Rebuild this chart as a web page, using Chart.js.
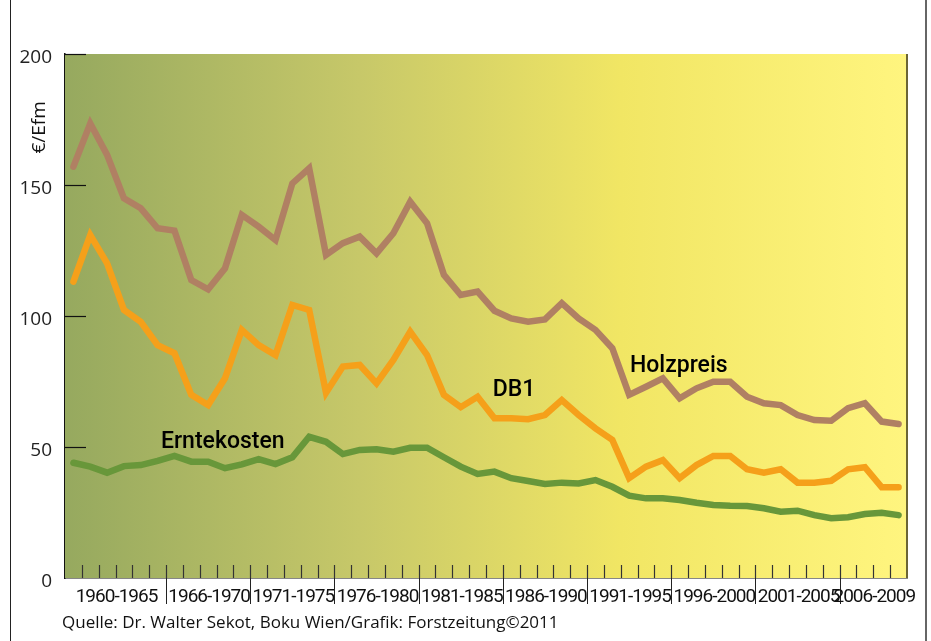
<!DOCTYPE html>
<html>
<head>
<meta charset="utf-8">
<script src="https://cdn.jsdelivr.net/npm/chart.js@4.4.1/dist/chart.umd.min.js"></script>
<style>
  html, body { margin: 0; padding: 0; background: #fff; }
  #wrap { position: relative; width: 931px; height: 641px; overflow: hidden; }
  #frame { position: absolute; left: 10px; top: 0; width: 914px; height: 700px;
           border-left: 1.5px solid #222; border-right: 2px solid #666; }
  #chart { position: absolute; left: 0; top: 0; }
  #source { position: absolute; left: 62px; top: 610px; font: 17px "Open Sans", sans-serif; color: #111; }
</style>
</head>
<body>
<div id="wrap">
  <div id="frame"></div>
  <canvas id="chart" width="931" height="641"></canvas>
  <div id="source">Quelle: Dr. Walter Sekot, Boku Wien/Grafik: Forstzeitung©2011</div>
</div>
<script>
// Data (€/Efm per year)
const years = ['1960','1961','1962','1963','1964','1965','1966','1967','1968','1969',
               '1970','1971','1972','1973','1974','1975','1976','1977','1978','1979',
               '1980','1981','1982','1983','1984','1985','1986','1987','1988','1989',
               '1990','1991','1992','1993','1994','1995','1996','1997','1998','1999',
               '2000','2001','2002','2003','2004','2005','2006','2007','2008','2009'];

const holzpreis = [157.0,173.5,161.5,144.9,141.1,133.5,132.6,113.7,110.2,118.2,
                   138.6,134.1,129.0,150.6,156.4,123.3,127.8,130.3,123.9,131.6,
                   143.6,135.4,115.7,108.0,109.3,102.0,99.1,97.8,98.7,104.9,
                   99.1,94.7,87.7,69.9,73.0,76.2,68.6,72.4,74.9,74.9,
                   69.2,66.7,66.0,62.2,60.3,60.0,64.8,66.7,59.7,58.8];

const db1 = [113.1,130.9,120.1,102.3,97.8,88.9,85.8,69.9,66.0,76.2,
             94.7,88.9,85.1,104.2,102.3,70.7,80.7,81.3,74.3,83.2,
             94.0,85.1,69.9,65.2,69.2,61.0,61.0,60.6,62.2,67.9,
             62.2,57.1,52.7,38.1,42.5,45.0,38.1,43.1,46.6,46.6,
             41.5,40.2,41.5,36.4,36.4,37.1,41.5,42.3,34.6,34.6];

const erntekosten = [44.0,42.5,40.2,42.7,43.1,44.7,46.6,44.4,44.4,41.9,
                     43.4,45.4,43.5,46.1,53.9,52.0,47.3,48.9,49.1,48.2,
                     49.7,49.7,46.1,42.5,39.7,40.6,38.1,37.0,35.9,36.4,
                     36.1,37.4,34.8,31.4,30.4,30.4,29.8,28.7,27.9,27.6,
                     27.5,26.6,25.3,25.7,24.0,22.8,23.2,24.4,24.9,24.0];

// x axis groups (label + number of years)
const groupLabels = ['1960-1965','1966-1970','1971-1975','1976-1980','1981-1985',
                     '1986-1990','1991-1995','1996-2000','2001-2005','2006-2009'];
const groupSizes = [6,5,5,5,5,5,5,5,5,4];

const yTicks = [0, 50, 100, 150, 200];
const yTitle = '€/Efm';

// Series labels placed in data coordinates (index, value)
const seriesLabels = [
  { text: 'Holzpreis',   x: 33.05, y: 78.6 },
  { text: 'DB1',         x: 24.9,  y: 69.5 },
  { text: 'Erntekosten', x: 5.2,   y: 49.6 }
];

// background gradient, ticks, group labels, frame of the plot
const decor = {
  id: 'decor',
  beforeDatasetsDraw(chart) {
    const { ctx, chartArea: a, scales: { x, y } } = chart;
    ctx.save();
    const g = ctx.createLinearGradient(a.left, 0, a.right, 0);
    g.addColorStop(0, '#96a95f');
    g.addColorStop(0.35, '#c7c869');
    g.addColorStop(0.66, '#f1e664');
    g.addColorStop(1, '#fff57f');
    ctx.fillStyle = g;
    ctx.fillRect(a.left, a.top, a.right - a.left, a.bottom - a.top);

    // inward y ticks
    ctx.strokeStyle = '#111';
    ctx.lineWidth = 1.2;
    yTicks.slice(1).forEach(v => {
      const py = Math.round(y.getPixelForValue(v)) + 0.5;
      ctx.beginPath();
      ctx.moveTo(a.left, py);
      ctx.lineTo(a.left + 21, py);
      ctx.stroke();
    });

    // inward x ticks at each year boundary
    ctx.strokeStyle = '#333';
    for (let i = 1; i < years.length; i++) {
      const px = Math.round(x.getPixelForValue(i - 0.5)) + 0.5;
      ctx.beginPath();
      ctx.moveTo(px, a.bottom);
      ctx.lineTo(px, a.bottom - 13);
      ctx.stroke();
    }

    // right border of plot
    ctx.strokeStyle = '#6b6535';
    ctx.lineWidth = 2;
    ctx.beginPath();
    ctx.moveTo(a.right, a.top);
    ctx.lineTo(a.right, a.bottom);
    ctx.stroke();
    ctx.restore();
  },
  afterDraw(chart) {
    const { ctx, chartArea: a, scales: { x, y } } = chart;
    ctx.save();
    // group separators + labels
    let start = 0;
    ctx.font = '19px Roboto, sans-serif';
    ctx.letterSpacing = '-1px';
    ctx.fillStyle = '#111';
    ctx.textAlign = 'center';
    ctx.textBaseline = 'alphabetic';
    groupSizes.forEach((n, k) => {
      if (k > 0) {
        const px = Math.round(x.getPixelForValue(start - 0.5)) + 0.5;
        ctx.strokeStyle = '#222';
        ctx.lineWidth = 1;
        ctx.beginPath();
        ctx.moveTo(px, a.bottom);
        ctx.lineTo(px, a.bottom + 26);
        ctx.stroke();
      }
      const cx = x.getPixelForValue(start + n / 2 - 0.5);
      ctx.fillText(groupLabels[k], cx + 1, a.bottom + 24);
      start += n;
    });
    ctx.letterSpacing = '0px';

    // y title
    ctx.font = '19px "Open Sans", sans-serif';
    ctx.fillStyle = '#111';
    ctx.translate(40, y.getPixelForValue(172));
    ctx.rotate(-Math.PI / 2);
    ctx.textAlign = 'center';
    ctx.textBaseline = 'middle';
    ctx.fillText(yTitle, 0, 0);
    ctx.restore();

    // series labels
    ctx.save();
    ctx.font = '500 23px Roboto, sans-serif';
    ctx.fillStyle = '#000';
    ctx.textAlign = 'left';
    ctx.textBaseline = 'alphabetic';
    seriesLabels.forEach(l => {
      ctx.fillText(l.text, x.getPixelForValue(l.x), y.getPixelForValue(l.y));
    });
    ctx.restore();
  }
};

const lineStyle = {
  borderWidth: 6.5,
  pointRadius: 0,
  tension: 0,
  borderJoinStyle: 'miter',
  borderCapStyle: 'round',
  fill: false
};

new Chart(document.getElementById('chart'), {
  type: 'line',
  data: {
    labels: years,
    datasets: [
      Object.assign({ label: 'Holzpreis', data: holzpreis, borderColor: '#b08063' }, lineStyle),
      Object.assign({ label: 'DB1', data: db1, borderColor: '#f5a01a' }, lineStyle),
      Object.assign({ label: 'Erntekosten', data: erntekosten, borderColor: '#68973a' }, lineStyle)
    ]
  },
  options: {
    responsive: false,
    animation: false,
    layout: { padding: { left: 0, top: 54, right: 24, bottom: 0 } },
    plugins: { legend: { display: false }, tooltip: { enabled: false } },
    scales: {
      x: {
        type: 'category',
        offset: true,
        grid: { display: false },
        ticks: { display: false },
        border: { display: true, color: '#111', width: 1.5 },
        afterFit: axis => { axis.height = 63; }
      },
      y: {
        min: 0,
        max: 200,
        afterBuildTicks: axis => { axis.ticks = yTicks.map(v => ({ value: v })); },
        grid: { display: false, drawTicks: false },
        border: { display: true, color: '#111', width: 1.5 },
        ticks: {
          padding: 13,
          labelOffset: 4,
          color: '#222',
          font: { family: 'Open Sans', size: 19 }
        },
        afterFit: axis => { axis.width = 65; }
      }
    }
  },
  plugins: [decor]
});
</script>
</body>
</html>
